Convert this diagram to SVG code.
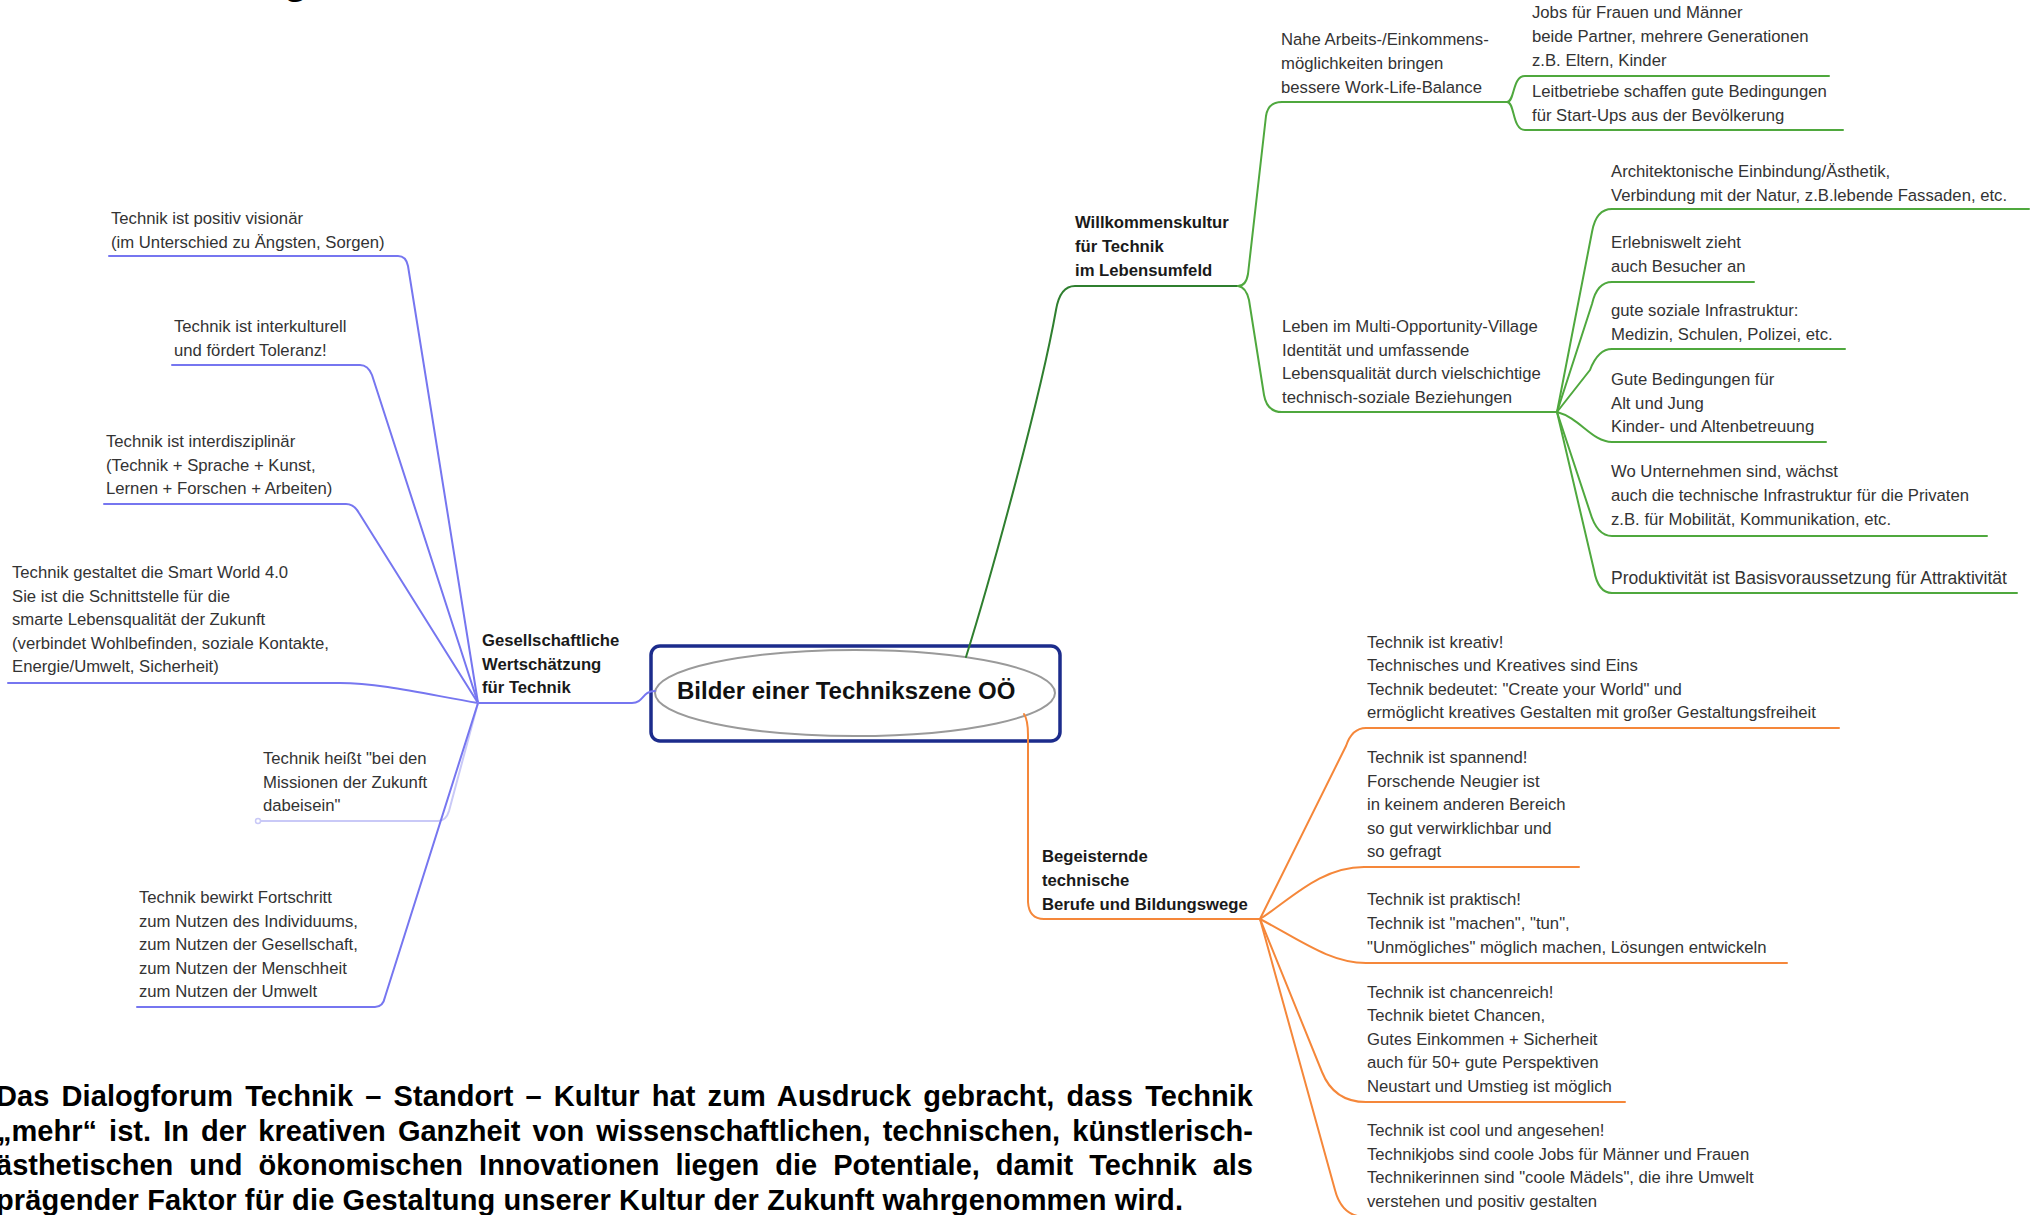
<svg xmlns="http://www.w3.org/2000/svg" width="2031" height="1215" viewBox="0 0 2031 1215">
<style>
.t{font-family:"Liberation Sans",Arial,sans-serif;font-size:16.7px;fill:#333}
.b{font-weight:bold;fill:#1a1a1a}
.p{font-family:"Liberation Sans",Arial,sans-serif;font-size:29px;font-weight:bold;fill:#000}
.c{fill:none;stroke-width:2;stroke-linecap:round;stroke-linejoin:round}
.bl{stroke:#7676f0}
.bf{stroke:#c9c9f7}
.gm{stroke:#2f7f2f}
.gr{stroke:#4fa83e}
.or{stroke:#f5873a}
</style>
<rect width="2031" height="1215" fill="#fff"/>
<text x="283" y="-7" style="font-family:'Liberation Sans',Arial,sans-serif;font-size:42px;font-weight:bold;fill:#000">g</text>

<g id="center">
<rect x="651" y="646" width="409" height="95" rx="9" fill="#fff" stroke="#1c2c8c" stroke-width="3.5"/>
<ellipse cx="855" cy="693" rx="200" ry="43" fill="#fff" stroke="#9a9a9a" stroke-width="2"/>
<text x="677" y="699" style="font-family:'Liberation Sans',Arial,sans-serif;font-size:24px;font-weight:bold;fill:#111">Bilder einer Technikszene OÖ</text>
</g>

<g id="connectors">
<path class="c bl" d="M478,703 H632 C644,703 642,691 655,691"/>
<path class="c bl" d="M109,256 H398 Q406,256 408,266 L478,703"/>
<path class="c bl" d="M172,365 H360 Q368,365 372,375 L478,703"/>
<path class="c bl" d="M104,504 H346 Q354,504 359,513 L478,703"/>
<path class="c bl" d="M8,683 H340 C380,683 430,695 478,703"/>
<path class="c bf" d="M261,821 H438 Q446,821 449,811 L478,703"/>
<circle cx="258" cy="821" r="2.5" fill="#fff" stroke="#c9c9f7" stroke-width="1.5"/>
<path class="c bl" d="M137,1007 H375 Q383,1007 385,997 L478,703"/>

<path class="c gm" d="M966,657 C990,580 1040,400 1056,310 Q1060,286 1075,286 H1238"/>
<path class="c gr" d="M1238,286 Q1246,286 1248,274 L1266,116 Q1268,102 1282,102 H1507"/>
<path class="c gr" d="M1507,102 C1515,102 1512,76 1525,76 H1829"/>
<path class="c gr" d="M1507,102 C1515,102 1512,130 1525,130 H1843"/>
<path class="c gr" d="M1238,286 Q1246,287 1249,300 L1264,395 Q1267,412 1282,412 H1557"/>
<path class="c gr" d="M1557,412 L1592,232 Q1596,209 1612,209 H2029"/>
<path class="c gr" d="M1557,412 L1592,304 Q1597,282 1612,282 H1754"/>
<path class="c gr" d="M1557,412 L1590,370 Q1598,349 1612,349 H1845"/>
<path class="c gr" d="M1557,412 C1580,418 1592,442 1612,442 H1826"/>
<path class="c gr" d="M1557,412 L1590,512 Q1597,536 1612,536 H1987"/>
<path class="c gr" d="M1557,412 L1594,570 Q1598,593 1612,593 H2017"/>

<path class="c or" d="M1024,714 Q1028,720 1028,735 L1028,902 Q1029,919 1044,919 H1260"/>
<path class="c or" d="M1260,919 L1346,746 Q1352,728 1366,728 H1839"/>
<path class="c or" d="M1260,919 C1290,900 1320,867 1364,867 H1579"/>
<path class="c or" d="M1260,919 C1300,940 1330,963 1366,963 H1787"/>
<path class="c or" d="M1260,919 L1322,1072 Q1334,1102 1366,1102 H1625"/>
<path class="c or" d="M1260,919 L1335,1190 Q1342,1217 1366,1217 H1900"/>
</g>

<g id="n-gesellschaft">
<text class="t b"><tspan x="482" y="646">Gesellschaftliche</tspan><tspan x="482" y="669.5">Wertschätzung</tspan><tspan x="482" y="693">für Technik</tspan></text>
</g>
<g id="n-visionaer">
<text class="t"><tspan x="111" y="224">Technik ist positiv visionär</tspan><tspan x="111" y="247.5">(im Unterschied zu Ängsten, Sorgen)</tspan></text>
</g>
<g id="n-interkulturell">
<text class="t"><tspan x="174" y="332">Technik ist interkulturell</tspan><tspan x="174" y="355.5">und fördert Toleranz!</tspan></text>
</g>
<g id="n-interdisziplinaer">
<text class="t"><tspan x="106" y="447">Technik ist interdisziplinär</tspan><tspan x="106" y="470.5">(Technik + Sprache + Kunst,</tspan><tspan x="106" y="494">Lernen + Forschen + Arbeiten)</tspan></text>
</g>
<g id="n-smartworld">
<text class="t"><tspan x="12" y="578">Technik gestaltet die Smart World 4.0</tspan><tspan x="12" y="601.5">Sie ist die Schnittstelle für die</tspan><tspan x="12" y="625">smarte Lebensqualität der Zukunft</tspan><tspan x="12" y="648.5">(verbindet Wohlbefinden, soziale Kontakte,</tspan><tspan x="12" y="672">Energie/Umwelt, Sicherheit)</tspan></text>
</g>
<g id="n-missionen">
<text class="t"><tspan x="263" y="764">Technik heißt "bei den</tspan><tspan x="263" y="787.5">Missionen der Zukunft</tspan><tspan x="263" y="811">dabeisein"</tspan></text>
</g>
<g id="n-fortschritt">
<text class="t"><tspan x="139" y="903">Technik bewirkt Fortschritt</tspan><tspan x="139" y="926.5">zum Nutzen des Individuums,</tspan><tspan x="139" y="950">zum Nutzen der Gesellschaft,</tspan><tspan x="139" y="973.5">zum Nutzen der Menschheit</tspan><tspan x="139" y="997">zum Nutzen der Umwelt</tspan></text>
</g>

<g id="n-willkommen">
<text class="t b"><tspan x="1075" y="228">Willkommenskultur</tspan><tspan x="1075" y="252">für Technik</tspan><tspan x="1075" y="276">im Lebensumfeld</tspan></text>
</g>
<g id="n-nahe">
<text class="t"><tspan x="1281" y="45">Nahe Arbeits-/Einkommens-</tspan><tspan x="1281" y="69">möglichkeiten bringen</tspan><tspan x="1281" y="93">bessere Work-Life-Balance</tspan></text>
</g>
<g id="n-jobs">
<text class="t"><tspan x="1532" y="18">Jobs für Frauen und Männer</tspan><tspan x="1532" y="42">beide Partner, mehrere Generationen</tspan><tspan x="1532" y="66">z.B. Eltern, Kinder</tspan></text>
</g>
<g id="n-leitbetriebe">
<text class="t"><tspan x="1532" y="97">Leitbetriebe schaffen gute Bedingungen</tspan><tspan x="1532" y="121">für Start-Ups aus der Bevölkerung</tspan></text>
</g>
<g id="n-leben">
<text class="t"><tspan x="1282" y="332">Leben im Multi-Opportunity-Village</tspan><tspan x="1282" y="355.5">Identität und umfassende</tspan><tspan x="1282" y="379">Lebensqualität durch vielschichtige</tspan><tspan x="1282" y="402.5">technisch-soziale Beziehungen</tspan></text>
</g>
<g id="n-architektur">
<text class="t"><tspan x="1611" y="177">Architektonische Einbindung/Ästhetik,</tspan><tspan x="1611" y="200.5">Verbindung mit der Natur, z.B.lebende Fassaden, etc.</tspan></text>
</g>
<g id="n-erlebniswelt">
<text class="t"><tspan x="1611" y="248">Erlebniswelt zieht</tspan><tspan x="1611" y="272">auch Besucher an</tspan></text>
</g>
<g id="n-infrastruktur">
<text class="t"><tspan x="1611" y="315.5">gute soziale Infrastruktur:</tspan><tspan x="1611" y="339.5">Medizin, Schulen, Polizei, etc.</tspan></text>
</g>
<g id="n-altjung">
<text class="t"><tspan x="1611" y="385">Gute Bedingungen für</tspan><tspan x="1611" y="409">Alt und Jung</tspan><tspan x="1611" y="432">Kinder- und Altenbetreuung</tspan></text>
</g>
<g id="n-unternehmen">
<text class="t"><tspan x="1611" y="477">Wo Unternehmen sind, wächst</tspan><tspan x="1611" y="501">auch die technische Infrastruktur für die Privaten</tspan><tspan x="1611" y="525">z.B. für Mobilität, Kommunikation, etc.</tspan></text>
</g>
<g id="n-produktivitaet">
<text class="t" x="1611" y="584" style="font-size:17.5px">Produktivität ist Basisvoraussetzung für Attraktivität</text>
</g>

<g id="n-begeisternde">
<text class="t b"><tspan x="1042" y="862">Begeisternde</tspan><tspan x="1042" y="886">technische</tspan><tspan x="1042" y="909.5">Berufe und Bildungswege</tspan></text>
</g>
<g id="n-kreativ">
<text class="t"><tspan x="1367" y="647.5">Technik ist kreativ!</tspan><tspan x="1367" y="671">Technisches und Kreatives sind Eins</tspan><tspan x="1367" y="694.5">Technik bedeutet: "Create your World" und</tspan><tspan x="1367" y="718">ermöglicht kreatives Gestalten mit großer Gestaltungsfreiheit</tspan></text>
</g>
<g id="n-spannend">
<text class="t"><tspan x="1367" y="763">Technik ist spannend!</tspan><tspan x="1367" y="786.5">Forschende Neugier ist</tspan><tspan x="1367" y="810">in keinem anderen Bereich</tspan><tspan x="1367" y="833.5">so gut verwirklichbar und</tspan><tspan x="1367" y="857">so gefragt</tspan></text>
</g>
<g id="n-praktisch">
<text class="t"><tspan x="1367" y="905">Technik ist praktisch!</tspan><tspan x="1367" y="929">Technik ist "machen", "tun",</tspan><tspan x="1367" y="953">"Unmögliches" möglich machen, Lösungen entwickeln</tspan></text>
</g>
<g id="n-chancenreich">
<text class="t"><tspan x="1367" y="997.5">Technik ist chancenreich!</tspan><tspan x="1367" y="1021">Technik bietet Chancen,</tspan><tspan x="1367" y="1044.5">Gutes Einkommen + Sicherheit</tspan><tspan x="1367" y="1068">auch für 50+ gute Perspektiven</tspan><tspan x="1367" y="1091.5">Neustart und Umstieg ist möglich</tspan></text>
</g>
<g id="n-cool">
<text class="t"><tspan x="1367" y="1136">Technik ist cool und angesehen!</tspan><tspan x="1367" y="1159.5">Technikjobs sind coole Jobs für Männer und Frauen</tspan><tspan x="1367" y="1183">Technikerinnen sind "coole Mädels", die ihre Umwelt</tspan><tspan x="1367" y="1206.5">verstehen und positiv gestalten</tspan></text>
</g>

<g id="paragraph">
<text class="p" x="-4" y="1106" textLength="1257" lengthAdjust="spacing" word-spacing="4">Das Dialogforum Technik – Standort – Kultur hat zum Ausdruck gebracht, dass Technik</text>
<text class="p" x="-3" y="1140.5" textLength="1256" lengthAdjust="spacing" word-spacing="4">„mehr“ ist. In der kreativen Ganzheit von wissenschaftlichen, technischen, künstlerisch-</text>
<text class="p" x="-4" y="1175" textLength="1257" lengthAdjust="spacing" word-spacing="8">ästhetischen und ökonomischen Innovationen liegen die Potentiale, damit Technik als</text>
<text class="p" x="-4" y="1209.5" textLength="1187" lengthAdjust="spacing">prägender Faktor für die Gestaltung unserer Kultur der Zukunft wahrgenommen wird.</text>
</g>
</svg>
